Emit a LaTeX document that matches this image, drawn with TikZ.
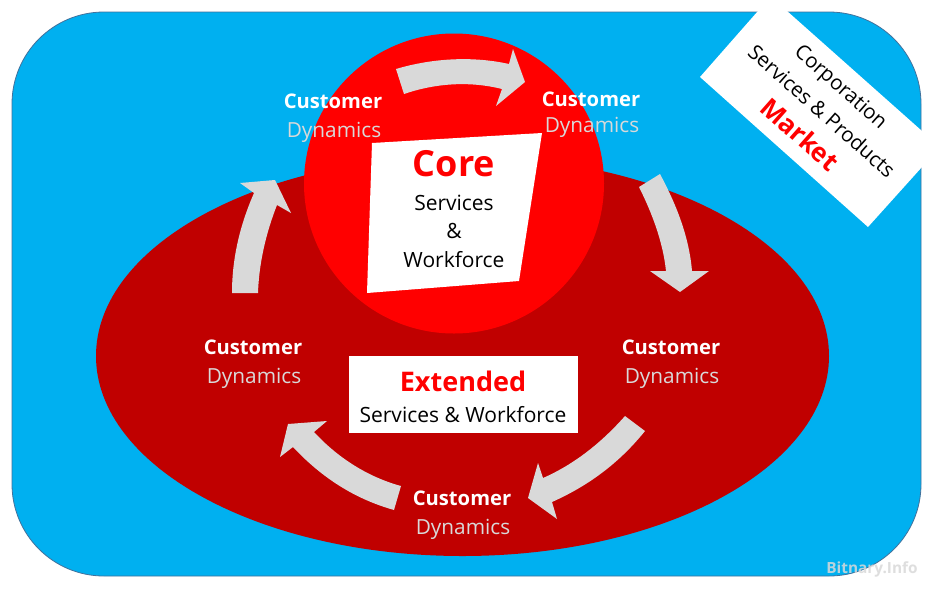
\documentclass[tikz,border=0pt]{standalone}
\usepackage{fontspec}
\setmainfont{Open Sans}
\tikzset{
 x=1pt,y=-1pt,
 flow/.style={fill=arrowgray,draw=none},
 lab/.style={inner sep=0pt,align=center,anchor=center},
 cust/.style={lab,text=white,font=\fontsize{20.2}{24}\selectfont\bfseries},
 dyn/.style={lab,text=arrowgray,font=\fontsize{20.8}{24}\selectfont},
 body/.style={lab,font=\fontsize{21}{25}\selectfont},
 tilted/.style={lab,rotate=-41.5,font=\fontsize{20.5}{25}\selectfont},
}
\definecolor{market}{HTML}{00B0F0}
\definecolor{darkred}{HTML}{C00000}
\definecolor{arrowgray}{HTML}{D9D9D9}
\definecolor{edgeblue}{HTML}{41719C}
\begin{document}
\begin{tikzpicture}
\useasboundingbox (0,0) rectangle (934,590);
\fill[white] (0,0) rectangle (934,590);
\draw[edgeblue,fill=market,line width=0.8pt,rounded corners=92pt] (12,12) rectangle (921,576);
\fill[darkred] (462.5,356) ellipse [x radius=366.5,y radius=200];
\fill[red] (454,183.5) circle [radius=150];
\fill[white] (758,11) -- (787,11) -- (922,131) -- (922,167) -- (868,227) -- (700,77) -- cycle;
\fill[white] (372,143) -- (542,133) -- (519,281) -- (367,293) -- cycle;
\fill[white] (349,356) rectangle (578,433);
% arrows
\fill[flow] (396,69) .. controls (433,58) and (473,56) .. (509,64) -- (513,49) -- (525,82) -- (496,106) -- (502,89) .. controls (470,81) and (436,83) .. (404,94) -- cycle;
\fill[flow] (639,187) -- (660,174) .. controls (676,204) and (689,236) .. (692,271) -- (709,271) -- (680,292) -- (650,271) -- (666,271) .. controls (663,242) and (652,213) .. (639,187) -- cycle;
\fill[flow] (625,416) -- (645,431) .. controls (620,462) and (590,485) .. (552,502) -- (557,519) -- (528,498) -- (538,463) -- (543,478) .. controls (575,464) and (602,442) .. (625,416) -- cycle;
\fill[flow] (401,486) -- (394,510) .. controls (355,499) and (322,478) .. (293,447) -- (280,457) -- (288,424) -- (327,421) -- (314,432) .. controls (338,458) and (368,477) .. (401,486) -- cycle;
\fill[flow] (232,293) -- (258,293) .. controls (259,263) and (266,233) .. (277,205) -- (291,213) -- (275,180) -- (240,183) -- (254,193) .. controls (240,225) and (232,258) .. (232,293) -- cycle;
% labels
\node[cust] (c1) at (333,101) {Customer};
\node[dyn] (d1) at (334,132) {Dynamics};
\node[cust] (c2) at (591,99) {Customer};
\node[dyn] (d2) at (592,127) {Dynamics};
\node[cust] (c3) at (671,347) {Customer};
\node[dyn] (d3) at (672,378) {Dynamics};
\node[cust] (c4) at (462,498) {Customer};
\node[dyn] (d4) at (463,529) {Dynamics};
\node[cust] (c5) at (253,347) {Customer};
\node[dyn] (d5) at (254,378) {Dynamics};
\node[lab,text=red,font=\fontsize{36}{42}\selectfont\bfseries] (core) at (454,164) {Core};
\node[body] (s1) at (454,203) {Services};
\node[body] (s2) at (454,231) {\&};
\node[body] (s3) at (454,260) {Workforce};
\node[lab,text=red,font=\fontsize{27}{32}\selectfont\bfseries] (ext) at (463,381) {Extended};
\node[body] (ext2) at (463,415) {Services \& Workforce};
\node[tilted] (m1) at (840,88) {Corporation};
\node[tilted] (m2) at (822,111) {Services \& Products};
\node[lab,rotate=-41.5,text=red,font=\fontsize{26}{32}\selectfont\bfseries] (m3) at (800,134) {Market};
\node[lab,text=black!15,opacity=.85,font=\fontsize{15.4}{18}\selectfont\bfseries] (wm) at (872,569) {Bitnary.Info};
\end{tikzpicture}
\end{document}
